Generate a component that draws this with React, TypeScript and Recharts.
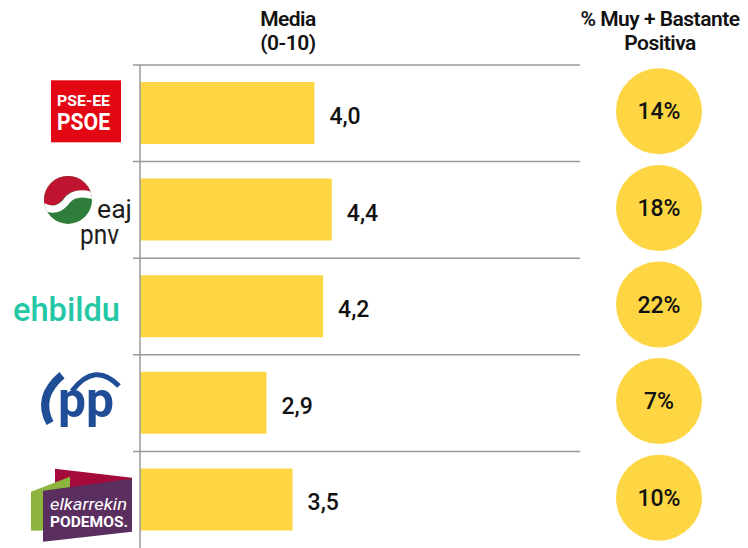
import React from 'react';
import { BarChart, Bar, XAxis, YAxis, LabelList } from 'recharts';

const parties = ['PSE-EE PSOE', 'EAJ-PNV', 'EH Bildu', 'PP', 'Elkarrekin Podemos'];
const media = [4.0, 4.4, 4.2, 2.9, 3.5];
const positiva = [14, 18, 22, 7, 10];

const data = parties.map((p, i) => ({ party: p, media: media[i], positiva: positiva[i] }));

const W = 748;
const H = 548;
const TOP = 65;
const BAND = (H - TOP) / parties.length;
const YELLOW = '#FED643';
const FONT = 'Roboto, sans-serif';

function fmt(v: number) {
  return v.toFixed(1).replace('.', ',');
}

function Logo({ name, cy }: { name: string; cy: number }) {
  if (name === 'PSE-EE PSOE') {
    return (
      <g>
        <rect x={51} y={cy - 33} width={70} height={62} fill="#E30613" />
        <text x={57} y={cy - 7} fill="#fff" fontFamily={FONT} fontWeight={700} fontSize={15}
          textLength={53} lengthAdjust="spacingAndGlyphs">PSE-EE</text>
        <text x={57} y={cy + 17} fill="#fff" fontFamily={FONT} fontWeight={700} fontSize={23}
          textLength={53} lengthAdjust="spacingAndGlyphs">PSOE</text>
      </g>
    );
  }
  if (name === 'EAJ-PNV') {
    const cx = 68;
    const c = cy - 10;
    return (
      <g>
        <defs>
          <clipPath id="pnvclip">
            <circle cx={cx} cy={c} r={24} />
          </clipPath>
        </defs>
        <g clipPath="url(#pnvclip)">
          <rect x={cx - 25} y={c - 25} width={50} height={50} fill="#2E7D3A" />
          <path d={`M ${cx - 25} ${c - 25} H ${cx + 25} V ${c - 6} Q ${cx + 5} ${c - 14} ${cx - 4} ${c - 2} Q ${cx - 14} ${c + 10} ${cx - 25} ${c + 4} Z`} fill="#C0132F" />
          <path d={`M ${cx + 26} ${c - 4} Q ${cx + 6} ${c - 10} ${cx - 2} ${c + 2} Q ${cx - 12} ${c + 14} ${cx - 26} ${c + 6}`}
            fill="none" stroke="#fff" strokeWidth={7} />
        </g>
        <text x={97} y={cy + 8} fill="#1d1d1b" fontFamily={FONT} fontWeight={400} fontSize={25}
          textLength={35} lengthAdjust="spacingAndGlyphs">eaj</text>
        <text x={80} y={cy + 34} fill="#1d1d1b" fontFamily={FONT} fontWeight={400} fontSize={27}
          textLength={39} lengthAdjust="spacingAndGlyphs">pnv</text>
      </g>
    );
  }
  if (name === 'EH Bildu') {
    return (
      <text x={13} y={cy + 14} fill="#22C7A6" fontFamily={FONT} fontWeight={500} fontSize={34}
        textLength={107} lengthAdjust="spacingAndGlyphs">ehbildu</text>
    );
  }
  if (name === 'PP') {
    return (
      <g>
        <path d={`M 62 ${cy - 28} Q 36 ${cy - 6} 50 ${cy + 20}`} fill="none" stroke="#1F4E96" strokeWidth={8} />
        <path d={`M 72 ${cy - 12} Q 95 ${cy - 42} 119 ${cy - 17}`} fill="none" stroke="#1F4E96" strokeWidth={5} />
        <text x={58} y={cy + 14} fill="#1F4E96" fontFamily={FONT} fontWeight={700} fontSize={50}
          textLength={56} lengthAdjust="spacingAndGlyphs">pp</text>
      </g>
    );
  }
  return (
    <g>
      <polygon points={`55,${cy - 31} 132,${cy - 22} 132,${cy - 6} 55,${cy - 6}`} fill="#A50B3A" />
      <polygon points={`31,${cy - 8} 70,${cy - 23} 70,${cy + 30} 31,${cy + 31}`} fill="#8DB43C" />
      <polygon points={`43,${cy - 9} 132,${cy - 21} 132,${cy + 32} 43,${cy + 42}`} fill="#5A2E5F" />
      <text x={50} y={cy + 10} fill="#fff" fontFamily={FONT} fontStyle="italic" fontSize={16}
        textLength={77} lengthAdjust="spacingAndGlyphs">elkarrekin</text>
      <text x={50} y={cy + 27} fill="#fff" fontFamily={FONT} fontWeight={700} fontSize={15}
        textLength={78} lengthAdjust="spacingAndGlyphs">PODEMOS.</text>
    </g>
  );
}

function LeftTick(props: any) {
  const { y, payload } = props;
  return (
    <g>
      <line x1={133} x2={580} y1={y - BAND / 2} y2={y - BAND / 2} stroke="#9a9a9a" strokeWidth={1.5} />
      <Logo name={payload.value} cy={y} />
    </g>
  );
}

function RightTick(props: any) {
  const { x, y, payload } = props;
  const v = positiva[payload.index];
  return (
    <g>
      <circle cx={x + 75} cy={y - 2} r={43} fill={YELLOW} />
      <text x={x + 75} y={y + 6} textAnchor="middle" fontFamily={FONT} fontWeight={500} fontSize={23} fill="#111">
        {v}%
      </text>
    </g>
  );
}

function ValueLabel(props: any) {
  const { x, y, width, height, value } = props;
  return (
    <text x={x + width + 15} y={y + height / 2 + 11} fontFamily={FONT} fontWeight={500} fontSize={23} fill="#111">
      {fmt(Number(value))}
    </text>
  );
}

const head: React.CSSProperties = {
  position: 'absolute',
  fontFamily: FONT,
  fontWeight: 600,
  fontSize: 21,
  lineHeight: '24px',
  color: '#111',
  textAlign: 'center',
  letterSpacing: '-0.5px',
};

export default function App() {
  return (
    <div style={{ position: 'absolute', left: 0, top: 0, width: W, height: H, background: '#fff', overflow: 'hidden' }}>
      <div style={{ ...head, left: 188, top: 7, width: 200 }}>Media<br />(0-10)</div>
      <div style={{ ...head, left: 560, top: 7, width: 200 }}>% Muy + Bastante<br />Positiva</div>
      <BarChart
        width={W}
        height={H}
        data={data}
        layout="vertical"
        margin={{ top: TOP, right: 0, bottom: 0, left: 0 }}
      >
        <XAxis type="number" domain={[0, 10]} hide />
        <YAxis
          yAxisId="left"
          type="category"
          dataKey="party"
          width={140}
          axisLine={{ stroke: '#9a9a9a', strokeWidth: 1.5 }}
          tickLine={false}
          tick={<LeftTick />}
          interval={0}
        />
        <YAxis
          yAxisId="right"
          orientation="right"
          type="category"
          dataKey="party"
          width={172}
          axisLine={false}
          tickLine={false}
          tick={<RightTick />}
          interval={0}
        />
        <Bar yAxisId="left" dataKey="media" fill={YELLOW} barSize={62} isAnimationActive={false}>
          <LabelList dataKey="media" content={<ValueLabel />} />
        </Bar>
      </BarChart>
    </div>
  );
}
